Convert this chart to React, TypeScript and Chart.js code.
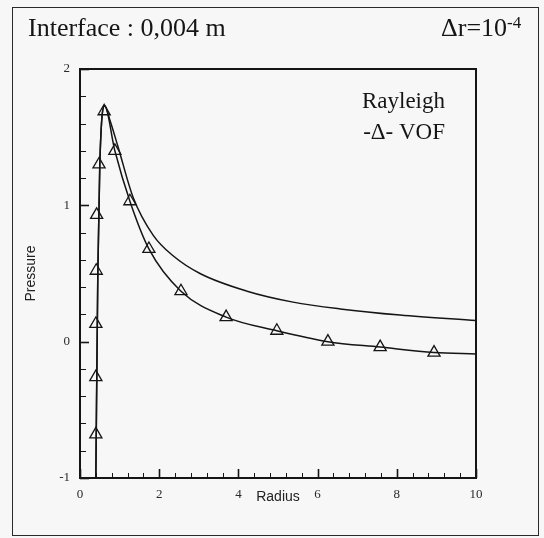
import { useEffect, useRef } from "react";
import { Chart, registerables } from "chart.js";

Chart.register(...registerables);

// ---- data ----
const rayleighX = [0.4, 0.45, 0.5, 0.62, 0.75, 0.96, 1.34, 1.85, 2.35, 3.03, 4.22, 5.38, 6.57, 8.08, 10];
const rayleighY = [-1, 0.5, 1.3, 1.73, 1.63, 1.43, 1.06, 0.78, 0.63, 0.5, 0.37, 0.29, 0.24, 0.195, 0.155];

const vofCurveX = [0.4, 0.45, 0.5, 0.62, 0.88, 1.26, 1.74, 2.55, 3.69, 4.97, 6.26, 7.58, 8.94, 10];
const vofCurveY = [-1, 0.5, 1.3, 1.73, 1.4, 1.03, 0.68, 0.37, 0.18, 0.08, 0.0, -0.04, -0.08, -0.09];

const vofMarkerX = [0.4, 0.4, 0.4, 0.41, 0.42, 0.48, 0.61, 0.88, 1.26, 1.74, 2.55, 3.69, 4.97, 6.26, 7.58, 8.94];
const vofMarkerY = [-0.68, -0.26, 0.13, 0.52, 0.93, 1.3, 1.69, 1.4, 1.03, 0.68, 0.37, 0.18, 0.08, 0.0, -0.04, -0.08];

const xTickLabels = [0, 2, 4, 6, 8, 10];
const yTickLabels = [-1, 0, 1, 2];
const xMinorStep = 0.4;
const yMinorStep = 0.2;

const ink = "#151515";

const toPoints = (xs: number[], ys: number[]) => xs.map((x, i) => ({ x, y: ys[i] }));

const framePlugin = {
  id: "frameTicks",
  afterDatasetsDraw(chart: any) {
    const { ctx, chartArea, scales } = chart;
    const xs = scales.x;
    const ys = scales.y;
    ctx.save();
    ctx.strokeStyle = ink;
    ctx.lineCap = "butt";
    const nx = Math.round((xs.max - xs.min) / xMinorStep);
    for (let i = 0; i <= nx; i++) {
      const v = xs.min + i * xMinorStep;
      const px = Math.round(xs.getPixelForValue(v)) + 0.5;
      const major = i % 5 === 0;
      ctx.lineWidth = major ? 1.6 : 1;
      ctx.beginPath();
      ctx.moveTo(px, chartArea.bottom);
      ctx.lineTo(px, chartArea.bottom - (major ? 9 : 5));
      ctx.stroke();
    }
    const ny = Math.round((ys.max - ys.min) / yMinorStep);
    for (let i = 0; i <= ny; i++) {
      const v = ys.min + i * yMinorStep;
      const py = Math.round(ys.getPixelForValue(v)) + 0.5;
      const major = i % 5 === 0;
      ctx.lineWidth = major ? 1.6 : 1;
      ctx.beginPath();
      ctx.moveTo(chartArea.left, py);
      ctx.lineTo(chartArea.left + (major ? 9 : 6), py);
      ctx.stroke();
    }
    ctx.lineWidth = 2;
    ctx.strokeRect(chartArea.left, chartArea.top, chartArea.right - chartArea.left, chartArea.bottom - chartArea.top);
    ctx.restore();
  },
};

export default function App() {
  const ref = useRef<HTMLCanvasElement>(null);

  useEffect(() => {
    document.body.style.margin = "0";
    document.body.style.background = "#f7f7f7";
    const canvas = ref.current;
    if (!canvas) return;
    const chart = new Chart(canvas, {
      type: "scatter",
      data: {
        datasets: [
          {
            label: "Rayleigh",
            data: toPoints(rayleighX, rayleighY),
            showLine: true,
            borderColor: ink,
            borderWidth: 1.5,
            pointRadius: 0,
            cubicInterpolationMode: "monotone",
            fill: false,
          } as any,
          {
            label: "VOF line",
            data: toPoints(vofCurveX, vofCurveY),
            showLine: true,
            borderColor: ink,
            borderWidth: 1.5,
            pointRadius: 0,
            cubicInterpolationMode: "monotone",
            fill: false,
          } as any,
          {
            label: "VOF",
            data: toPoints(vofMarkerX, vofMarkerY),
            showLine: false,
            pointStyle: "triangle",
            pointRadius: 7,
            pointBorderWidth: 1.3,
            borderColor: ink,
            backgroundColor: "rgba(0,0,0,0)",
          } as any,
        ],
      },
      options: {
        animation: false,
        responsive: false,
        events: [],
        layout: { padding: { left: 23, right: 68, top: 69, bottom: 32 } },
        plugins: { legend: { display: false }, tooltip: { enabled: false } },
        scales: {
          x: {
            type: "linear",
            min: 0,
            max: 10,
            afterFit: (s: any) => {
              s.height = 28;
            },
            afterBuildTicks: (s: any) => {
              s.ticks = xTickLabels.map((v) => ({ value: v }));
            },
            grid: { display: false, drawTicks: false },
            border: { display: false },
            ticks: {
              padding: 9,
              autoSkip: false,
              maxRotation: 0,
              color: "#2a2a2a",
              font: { family: "'Liberation Serif', 'DejaVu Serif', serif", size: 13 },
            },
            title: {
              display: true,
              text: "Radius",
              color: "#222",
              padding: 0,
              font: { family: "'Liberation Sans', Arial, sans-serif", size: 14 },
            },
          },
          y: {
            type: "linear",
            min: -1,
            max: 2,
            afterFit: (s: any) => {
              s.width = 57;
            },
            afterBuildTicks: (s: any) => {
              s.ticks = yTickLabels.map((v) => ({ value: v }));
            },
            grid: { display: false, drawTicks: false },
            border: { display: false },
            ticks: {
              padding: 10,
              autoSkip: false,
              color: "#2a2a2a",
              font: { family: "'Liberation Serif', 'DejaVu Serif', serif", size: 13 },
            },
            title: {
              display: true,
              text: "Pressure",
              color: "#222",
              padding: 0,
              font: { family: "'Liberation Sans', Arial, sans-serif", size: 14 },
            },
          },
        },
      },
      plugins: [framePlugin],
    } as any);
    return () => chart.destroy();
  }, []);

  const serif = "'Liberation Serif', 'DejaVu Serif', 'Times New Roman', serif";

  return (
    <div style={{ position: "fixed", left: 0, top: 0, width: 544, height: 538, background: "#f7f7f7", overflow: "hidden" }}>
      <div
        style={{
          position: "absolute",
          left: 12,
          top: 7,
          width: 527,
          height: 529,
          boxSizing: "border-box",
          border: "1.5px solid #2a2a2a",
        }}
      />
      <canvas ref={ref} width={544} height={538} style={{ position: "absolute", left: 0, top: 0, width: 544, height: 538 }} />
      <div
        style={{
          position: "absolute",
          left: 28,
          top: 13,
          fontFamily: serif,
          fontSize: 26,
          lineHeight: "30px",
          color: ink,
          whiteSpace: "nowrap",
        }}
      >
        Interface : 0,004 m
      </div>
      <div
        style={{
          position: "absolute",
          left: 441,
          top: 13,
          fontFamily: serif,
          fontSize: 26,
          lineHeight: "30px",
          color: ink,
          whiteSpace: "nowrap",
        }}
      >
        Δr=10
        <span style={{ fontSize: 17, position: "relative", top: -8 }}>-4</span>
      </div>
      <div
        style={{
          position: "absolute",
          right: 99,
          top: 85,
          textAlign: "right",
          fontFamily: serif,
          fontSize: 23,
          lineHeight: "31px",
          color: ink,
          whiteSpace: "nowrap",
        }}
      >
        <div>Rayleigh</div>
        <div>-Δ- VOF</div>
      </div>
    </div>
  );
}
